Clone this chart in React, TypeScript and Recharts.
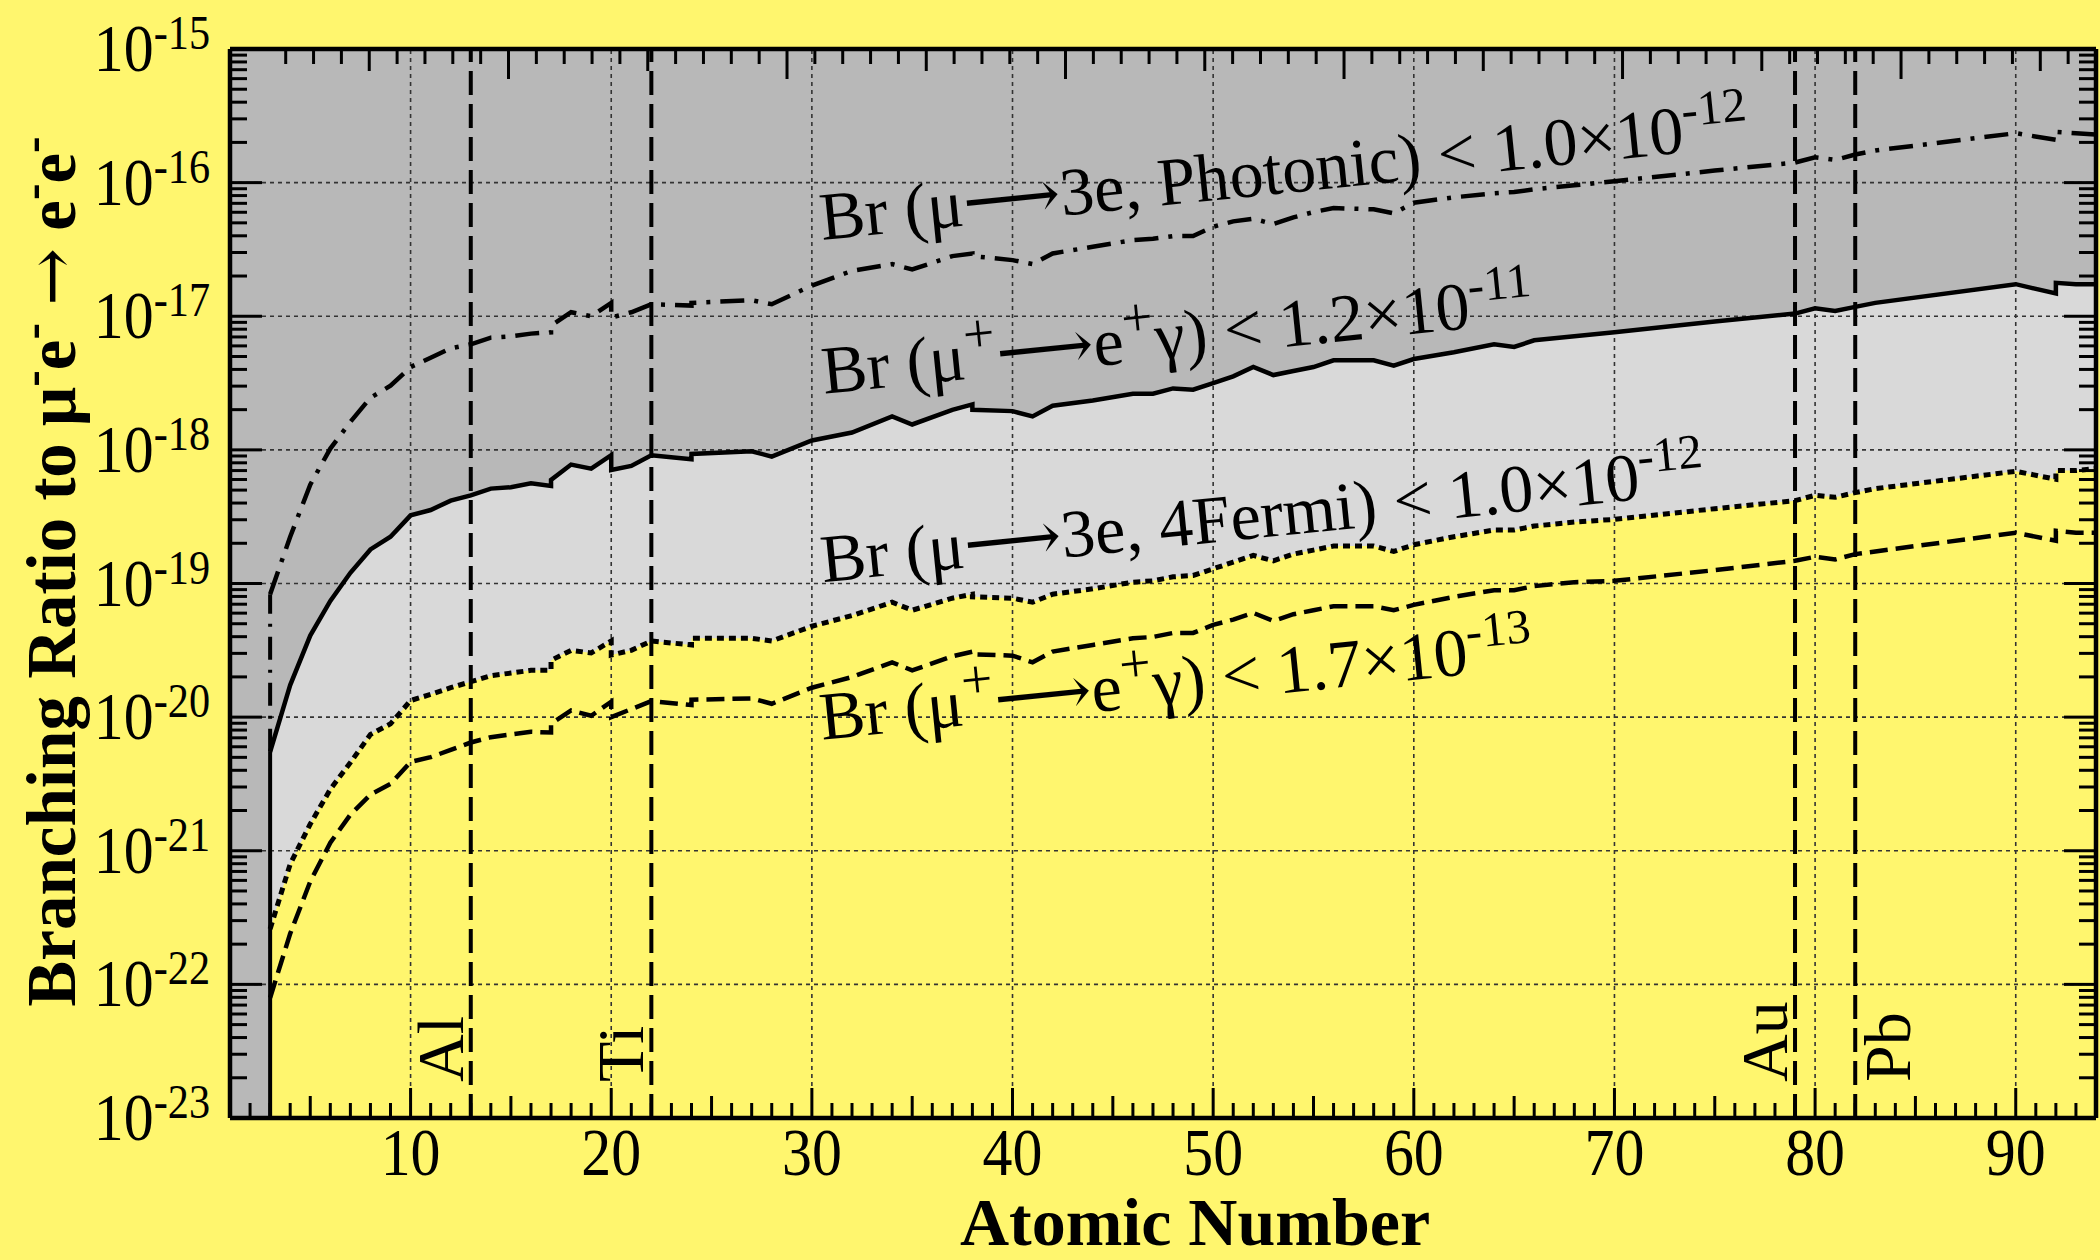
import React from 'react';
import {
  ComposedChart,
  Area,
  Line,
  XAxis,
  YAxis,
  CartesianGrid,
  ReferenceLine,
  ReferenceDot,
  Label,
} from 'recharts';

// atomic number Z (repeated Z = step in the computed curve)
const atomicNumber = [
  3, 4, 5, 6, 7, 8, 9, 10, 11, 12, 13, 14, 15, 16, 17, 17, 18, 19, 20, 20, 21, 22, 24, 24, 27, 28,
  30, 32, 34, 35, 37, 38, 38, 40, 41, 42, 44, 46, 47, 48, 49, 50, 51, 52, 53, 54, 55, 56, 58, 59,
  60, 62, 64, 65, 66, 68, 70, 75, 79, 80, 81, 82, 83, 90, 92, 92, 93, 94,
];

// log10 of the branching ratio
const photonicExp = [
  -19.08, -18.65, -18.26, -17.99, -17.79, -17.61, -17.52, -17.38, -17.31, -17.24, -17.21, -17.16,
  -17.15, -17.13, -17.12, -17.07, -16.97, -17.0, -16.9, -17.01, -16.97, -16.91, -16.92, -16.9,
  -16.88, -16.91, -16.77, -16.66, -16.61, -16.65, -16.55, -16.53, -16.55, -16.58, -16.61, -16.53,
  -16.48, -16.43, -16.42, -16.4, -16.4, -16.33, -16.29, -16.27, -16.31, -16.26, -16.22, -16.19,
  -16.2, -16.23, -16.15, -16.11, -16.08, -16.07, -16.05, -16.02, -15.99, -15.91, -15.85, -15.81,
  -15.83, -15.79, -15.76, -15.63, -15.68, -15.62, -15.63, -15.64,
];

const megExp = [
  -20.26, -19.76, -19.39, -19.13, -18.92, -18.745, -18.65, -18.49, -18.45, -18.38, -18.34, -18.29,
  -18.28, -18.25, -18.27, -18.225, -18.11, -18.14, -18.04, -18.15, -18.12, -18.04, -18.07, -18.03,
  -18.01, -18.05, -17.93, -17.87, -17.75, -17.81, -17.7, -17.66, -17.7, -17.71, -17.75, -17.67,
  -17.63, -17.58, -17.58, -17.54, -17.55, -17.5, -17.45, -17.38, -17.44, -17.41, -17.38, -17.33,
  -17.33, -17.37, -17.32, -17.27, -17.21, -17.23, -17.18, -17.15, -17.12, -17.04, -16.98, -16.94,
  -16.96, -16.93, -16.9, -16.76, -16.83, -16.75, -16.76, -16.76,
];

const fermiExp = [
  -21.585, -21.1, -20.8, -20.54, -20.34, -20.13, -20.05, -19.876, -19.83, -19.78, -19.735, -19.69,
  -19.67, -19.65, -19.65, -19.575, -19.5, -19.52, -19.43, -19.535, -19.5, -19.43, -19.46, -19.41,
  -19.41, -19.43, -19.32, -19.24, -19.14, -19.2, -19.11, -19.08, -19.1, -19.11, -19.14, -19.08,
  -19.04, -18.99, -18.98, -18.95, -18.94, -18.89, -18.84, -18.79, -18.83, -18.78, -18.75, -18.72,
  -18.72, -18.76, -18.71, -18.65, -18.6, -18.6, -18.57, -18.54, -18.52, -18.44, -18.38, -18.34,
  -18.355, -18.32, -18.29, -18.16, -18.22, -18.155, -18.155, -18.14,
];

const megNewExp = [
  -22.1, -21.62, -21.23, -20.94, -20.73, -20.58, -20.5, -20.335, -20.3, -20.245, -20.19, -20.15,
  -20.13, -20.11, -20.115, -20.05, -19.95, -19.99, -19.885, -20.0, -19.94, -19.88, -19.91, -19.87,
  -19.86, -19.9, -19.78, -19.7, -19.59, -19.65, -19.545, -19.51, -19.53, -19.54, -19.59, -19.51,
  -19.46, -19.41, -19.4, -19.37, -19.37, -19.31, -19.27, -19.22, -19.28, -19.23, -19.2, -19.17,
  -19.17, -19.2, -19.16, -19.1, -19.05, -19.05, -19.02, -18.99, -18.98, -18.9, -18.83, -18.8,
  -18.82, -18.78, -18.76, -18.62, -18.68, -18.605, -18.62, -18.62,
];

const gridDecades = [-22, -21, -20, -19, -18, -17, -16];
const gridZ = [10, 20, 30, 40, 50, 60, 70, 80, 90];
const elements = [
  { name: 'Al', z: 13, side: 'left' },
  { name: 'Ti', z: 22, side: 'left' },
  { name: 'Au', z: 79, side: 'left' },
  { name: 'Pb', z: 82, side: 'right' },
];

const Z_MIN = 1;
const Z_MAX = 94;
const Y_MIN = 1e-23;
const Y_MAX = 1e-15;

const data = atomicNumber.map((z, i) => ({
  z,
  photonic: Math.pow(10, photonicExp[i]),
  meg: Math.pow(10, megExp[i]),
  fermi: Math.pow(10, fermiExp[i]),
  megNew: Math.pow(10, megNewExp[i]),
}));

const xTicks = Array.from({ length: 92 }, (_, i) => i + 2);
const yTicks: number[] = [];
for (let n = -23; n <= -16; n++) {
  for (let k = 1; k <= 9; k++) yTicks.push(k * Math.pow(10, n));
}
yTicks.push(Y_MAX);

const SERIF = '"Liberation Serif", "Times New Roman", serif';
const ARROW_FONT = '"DejaVu Serif", "DejaVu Sans", serif';
const YELLOW = '#fff66e';
const DARK = '#b8b8b8';
const LIGHT = '#d9d9d9';

type Seg = { t: string; sup?: boolean; arrow?: boolean };

const RichText = ({ x, y, segs, size, angle, anchor = 'start', bold = false, supScale = 0.72 }: any) => (
  <text
    transform={`translate(${x},${y}) rotate(${angle})`}
    fontSize={size}
    fontFamily={SERIF}
    fontWeight={bold ? 'bold' : 'normal'}
    textAnchor={anchor}
    fill="#000"
    style={{ whiteSpace: 'pre' }}
  >
    {segs.map((s: Seg, i: number) => {
      const prevSup = i > 0 && segs[i - 1].sup;
      const shift = size * 0.38;
      const dy = s.sup && !prevSup ? -shift : !s.sup && prevSup ? shift : 0;
      const big = s.sup && s.t === '+';
      return (
        <tspan
          key={i}
          dy={dy}
          fontSize={s.sup ? size * (big ? 0.82 : supScale) : size}
          fontFamily={s.arrow ? ARROW_FONT : undefined}
          fontWeight={s.arrow ? 'normal' : undefined}
        >
          {s.t}
        </tspan>
      );
    })}
  </text>
);

const tickLabel = (x: number, y: number, anchor: string, main: string, sup?: string) => (
  <g transform={`translate(${x},${y}) scale(0.88,1)`}>
    <text x={0} y={0} textAnchor={anchor} fontSize={68} fontFamily={SERIF} fill="#000">
      {main}
      {sup && (
        <tspan dy={-22} fontSize={48}>
          {sup}
        </tspan>
      )}
    </text>
  </g>
);

const xTickLen = (v: number) => (v % 10 === 0 ? 30 : v % 5 === 0 ? 22 : 15);

const BottomTick = (props: any) => {
  const { x, y, payload } = props;
  const v = payload.value;
  return (
    <g>
      <line x1={x} x2={x} y1={y} y2={y - xTickLen(v)} stroke="#000" strokeWidth={3} />
      {v % 10 === 0 && tickLabel(x, y + 57, 'middle', String(v))}
    </g>
  );
};

const TopTick = (props: any) => {
  const { x, y, payload } = props;
  return <line x1={x} x2={x} y1={y} y2={y + xTickLen(payload.value)} stroke="#000" strokeWidth={3} />;
};

const decade = (v: number) => {
  const lg = Math.log10(v);
  const n = Math.round(lg);
  return { n, major: Math.abs(lg - n) < 1e-6 };
};

const LeftTick = (props: any) => {
  const { x, y, payload } = props;
  const { n, major } = decade(payload.value);
  return (
    <g>
      <line x1={x} x2={x + (major ? 32 : 17)} y1={y} y2={y} stroke="#000" strokeWidth={3} />
      {major && tickLabel(x - 20, y + 22, 'end', '10', String(n))}
    </g>
  );
};

const RightTick = (props: any) => {
  const { x, y, payload } = props;
  const { major } = decade(payload.value);
  return <line x1={x} x2={x - (major ? 32 : 17)} y1={y} y2={y} stroke="#000" strokeWidth={3} />;
};

const elementLabel = (name: string, side: string) => (props: any) => {
  const vb = props.viewBox;
  const x = side === 'left' ? vb.x - 8 : vb.x + 55;
  const y = vb.y + vb.height - 36;
  return (
    <text transform={`translate(${x},${y}) rotate(-90)`} fontSize={66} fontFamily={SERIF} fill="#000">
      {name}
    </text>
  );
};

const annotations: { z: number; exp: number; segs: Seg[] }[] = [
  {
    z: 30.5,
    exp: -16.43,
    segs: [
      { t: 'Br (μ' }, { t: '⟶', arrow: true }, { t: '3e, Photonic) < 1.0×10' }, { t: '-12', sup: true },
    ],
  },
  {
    z: 30.6,
    exp: -17.58,
    segs: [
      { t: 'Br (μ' }, { t: '+', sup: true }, { t: '⟶', arrow: true }, { t: 'e' }, { t: '+', sup: true },
      { t: 'γ) < 1.2×10' }, { t: '-11', sup: true },
    ],
  },
  {
    z: 30.55,
    exp: -18.99,
    segs: [
      { t: 'Br (μ' }, { t: '⟶', arrow: true }, { t: '3e, 4Fermi) < 1.0×10' }, { t: '-12', sup: true },
    ],
  },
  {
    z: 30.5,
    exp: -20.17,
    segs: [
      { t: 'Br (μ' }, { t: '+', sup: true }, { t: '⟶', arrow: true }, { t: 'e' }, { t: '+', sup: true },
      { t: 'γ) < 1.7×10' }, { t: '-13', sup: true },
    ],
  },
];

const yTitle: Seg[] = [
  { t: 'Branching Ratio to μ' }, { t: '-', sup: true }, { t: 'e' }, { t: '-', sup: true },
  { t: ' ' }, { t: '→', arrow: true }, { t: ' e' }, { t: '-', sup: true }, { t: 'e' }, { t: '-', sup: true },
];

export default function App() {
  return (
    <div style={{ position: 'absolute', left: 0, top: 0, width: 2100, height: 1260, background: YELLOW }}>
      <ComposedChart
        width={2100}
        height={1260}
        data={data}
        margin={{ top: 48, right: 3, bottom: 141, left: 229 }}
      >
        <CartesianGrid horizontal={false} vertical={false} fill={DARK} fillOpacity={1} stroke="none" />
        <XAxis
          dataKey="z"
          type="number"
          domain={[Z_MIN, Z_MAX]}
          allowDataOverflow
          ticks={xTicks}
          interval={0}
          height={1}
          tickLine={false}
          tickSize={0}
          tickMargin={0}
          tick={<BottomTick />}
          axisLine={{ stroke: '#000', strokeWidth: 4.5 }}
        >
          <Label
            content={(p: any) => (
              <text
                x={p.viewBox.x + p.viewBox.width / 2 + 32}
                y={p.viewBox.y + 127}
                textAnchor="middle"
                fontSize={68}
                fontWeight="bold"
                fontFamily={SERIF}
                fill="#000"
              >
                Atomic Number
              </text>
            )}
          />
        </XAxis>
        <XAxis
          xAxisId="top"
          orientation="top"
          type="number"
          domain={[Z_MIN, Z_MAX]}
          allowDataOverflow
          ticks={xTicks}
          interval={0}
          height={1}
          tickLine={false}
          tickSize={0}
          tickMargin={0}
          tick={<TopTick />}
          axisLine={{ stroke: '#000', strokeWidth: 4.5 }}
        />
        <YAxis
          type="number"
          scale="log"
          domain={[Y_MIN, Y_MAX]}
          allowDataOverflow
          ticks={yTicks}
          interval={0}
          width={1}
          tickLine={false}
          tickSize={0}
          tickMargin={0}
          tick={<LeftTick />}
          axisLine={{ stroke: '#000', strokeWidth: 4.5 }}
        >
          <Label
            content={(p: any) => (
              <RichText
                x={p.viewBox.x + p.viewBox.width - 155}
                y={p.viewBox.y + p.viewBox.height / 2 - 12}
                segs={yTitle}
                size={69}
                angle={-90}
                anchor="middle"
                bold
              />
            )}
          />
        </YAxis>
        <YAxis
          yAxisId="right"
          orientation="right"
          type="number"
          scale="log"
          domain={[Y_MIN, Y_MAX]}
          allowDataOverflow
          ticks={yTicks}
          interval={0}
          width={1}
          tickLine={false}
          tickSize={0}
          tickMargin={0}
          tick={<RightTick />}
          axisLine={{ stroke: '#000', strokeWidth: 4.5 }}
        />

        <Area
          dataKey="meg"
          type="linear"
          stroke="none"
          fill={LIGHT}
          fillOpacity={1}
          baseValue={Y_MIN}
          isAnimationActive={false}
        />
        <Area
          dataKey="fermi"
          type="linear"
          stroke="none"
          fill={YELLOW}
          fillOpacity={1}
          baseValue={Y_MIN}
          isAnimationActive={false}
        />

        {gridDecades.map((n) => (
          <ReferenceLine
            key={`h${n}`}
            y={Math.pow(10, n)}
            stroke="#333"
            strokeWidth={1.6}
            strokeDasharray="4 4"
          />
        ))}
        {gridZ.map((z) => (
          <ReferenceLine key={`v${z}`} x={z} stroke="#333" strokeWidth={1.6} strokeDasharray="4 4" />
        ))}

        {elements.map((e) => (
          <ReferenceLine
            key={e.name}
            x={e.z}
            stroke="#000"
            strokeWidth={4}
            strokeDasharray="24 9"
            label={elementLabel(e.name, e.side)}
          />
        ))}

        <ReferenceLine
          segment={[
            { x: atomicNumber[0], y: Y_MIN },
            { x: atomicNumber[0], y: data[0].meg },
          ]}
          stroke="#000"
          strokeWidth={4}
        />
        <ReferenceLine
          segment={[
            { x: atomicNumber[0], y: data[0].meg },
            { x: atomicNumber[0], y: data[0].photonic },
          ]}
          stroke="#000"
          strokeWidth={4}
          strokeDasharray="23 10 3 10"
        />

        <Line
          dataKey="photonic"
          type="linear"
          stroke="#000"
          strokeWidth={4.5}
          strokeDasharray="24 10 4 10"
          dot={false}
          isAnimationActive={false}
        />
        <Line
          dataKey="meg"
          type="linear"
          stroke="#000"
          strokeWidth={4.5}
          dot={false}
          isAnimationActive={false}
        />
        <Line
          dataKey="fermi"
          type="linear"
          stroke="#000"
          strokeWidth={5}
          strokeDasharray="7 5"
          dot={false}
          isAnimationActive={false}
        />
        <Line
          dataKey="megNew"
          type="linear"
          stroke="#000"
          strokeWidth={4.5}
          strokeDasharray="18 8"
          dot={false}
          isAnimationActive={false}
        />

        {annotations.map((a, i) => (
          <ReferenceDot
            key={`a${i}`}
            x={a.z}
            y={Math.pow(10, a.exp)}
            r={0}
            fill="none"
            stroke="none"
            label={(p: any) => (
              <RichText x={p.viewBox.x} y={p.viewBox.y} segs={a.segs} size={68} angle={-5.8} />
            )}
          />
        ))}
      </ComposedChart>
    </div>
  );
}
